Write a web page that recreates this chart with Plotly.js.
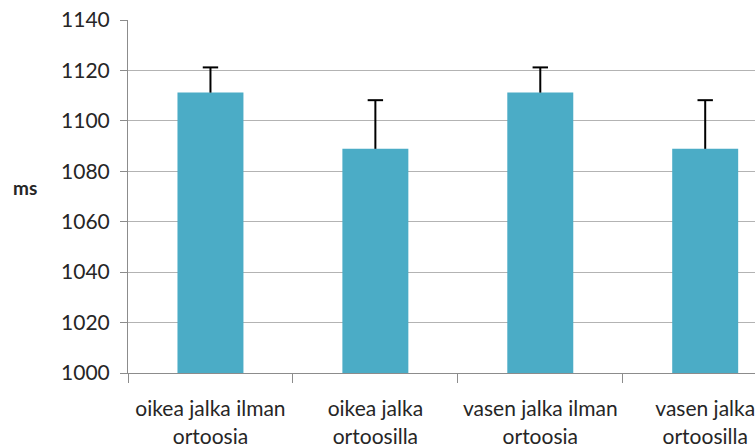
<!DOCTYPE html>
<html>
<head>
<meta charset="utf-8">
<script src="https://cdn.plot.ly/plotly-3.0.1.min.js"></script>
<style>html,body{margin:0;padding:0;overflow:hidden;background:#fff;}#chart{width:755px;height:448px;}</style>
</head>
<body>
<div id="chart"></div>
<script>
var categories = ["oikea jalka ilman<br>ortoosia", "oikea jalka<br>ortoosilla", "vasen jalka ilman<br>ortoosia", "vasen jalka<br>ortoosilla"];
var means = [1111.2, 1088.9, 1111.2, 1088.9];
var errPlus = [10.0, 19.3, 10.0, 19.3];
var yTicks = [1000, 1020, 1040, 1060, 1080, 1100, 1120, 1140];

var FONT = "Lato, 'Open Sans', sans-serif";
var TXT = "#262626";

var bars = {
  type: "bar",
  x: categories,
  y: means,
  marker: {color: "#4BACC6"},
  error_y: {type: "data", array: errPlus, arrayminus: means.map(function(){return 0;}), symmetric: false, color: "#000", thickness: 2, width: 0},
  hoverinfo: "none"
};

// caps at the top of each error bar
var caps = {
  type: "scatter", mode: "markers",
  x: categories,
  y: means.map(function(m, i){ return m + errPlus[i]; }),
  marker: {symbol: "line-ew", size: 11, color: "#000", line: {color: "#000", width: 2}},
  hoverinfo: "none"
};

var layout = {
  width: 755, height: 448,
  margin: {l: 128, r: 0, t: 20, b: 75},
  paper_bgcolor: "#fff", plot_bgcolor: "#fff",
  bargap: 0.6,
  showlegend: false,
  font: {family: FONT, color: TXT, size: 21},
  xaxis: {
    type: "category",
    range: [-0.5, 3.302],
    showline: true, linecolor: "#8c8c8c", linewidth: 1,
    ticks: "outside", tickson: "boundaries", ticklen: 9, tickcolor: "#8c8c8c",
    showgrid: false, zeroline: false,
    tickfont: {family: FONT, size: 21, color: TXT},
    ticklabelstandoff: 17,
    fixedrange: true
  },
  yaxis: {
    range: [1000, 1140],
    tickvals: yTicks,
    ticktext: yTicks.map(String),
    showline: true, linecolor: "#8c8c8c", linewidth: 1,
    ticks: "outside", ticklen: 7, tickcolor: "#8c8c8c",
    showgrid: true, gridcolor: "#b3b3b3", gridwidth: 1,
    zeroline: false,
    tickfont: {family: FONT, size: 21, color: TXT},
    ticklabelstandoff: 6,
    fixedrange: true
  },
  annotations: [{
    text: "<b>ms</b>", xref: "paper", yref: "paper",
    x: (25 - 128) / 627, y: (373 - 187) / 353,
    xanchor: "center", yanchor: "middle", showarrow: false,
    font: {family: FONT, size: 19, color: TXT}
  }]
};

Plotly.newPlot("chart", [bars, caps], layout, {displayModeBar: false, staticPlot: true});
</script>
</body>
</html>
